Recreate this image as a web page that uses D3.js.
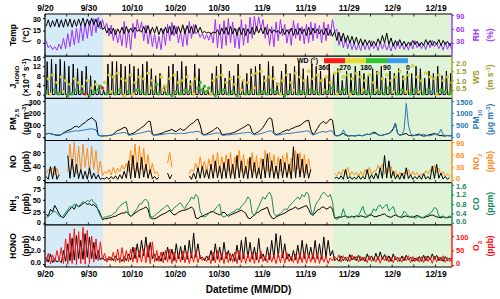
<!DOCTYPE html>
<html>
<head>
<meta charset="utf-8">
<script src="https://cdn.jsdelivr.net/npm/d3@7"></script>
<style>
body{margin:0;background:#fff;}
svg{font-family:"Liberation Sans",Arial,sans-serif;font-weight:bold;}
</style>
</head>
<body>
<div id="chart"></div>
<script>
// data: two readings a day (06:00, 18:00) from 9/20
var temp = [20,28,19,27,20,29,19,28,19,29,20,29,19,28,20,29,21,30,20,29,21,30,22,29,
  19,26,16,19,12,18,11,18,10,17,12,19,11,20,12,18,13,19,14,16,
  13,20,12,21,11,19,12,20,10,18,11,19,12,20,10,21,11,20,12,22,
  11,21,12,20,11,22,13,19,12,14,12,13,11,13,12,16,10,18,11,19,
  10,20,11,18,9,19,10,18,9,17,11,19,10,20,12,18,11,19,10,17,
  12,16,13,15,11,17,10,16,11,18,9,17,10,18,11,17,9,19,10,18,
  12,17,11,16,10,18,9,16,8,14,3,13,2,12,1,9,0,8,-1,7,
  -2,5,-3,4,-2,3,-4,2,-3,5,-1,9,0,12,-2,6,-4,3,-3,4,
  -3,2,-4,1,-3,3,-2,2,-4,1,-3,4,-2,3,-3,2,-2,4,-3,3,-2,2,-3,1];
var rh = [35,20,25,16,22,15,28,17,40,18,50,22,58,26,62,30,68,35,72,40,78,45,82,52,
  85,60,80,62,72,45,68,35,60,30,52,24,76,20,60,16,72,40,80,55,
  75,35,68,28,58,22,50,18,45,16,60,25,70,35,74,45,65,30,55,22,
  62,25,76,40,70,50,55,42,50,38,48,36,52,30,80,20,70,18,78,25,
  82,30,75,20,60,18,80,25,70,30,85,40,87,55,86,60,80,40,70,25,
  65,22,75,35,80,45,70,30,60,25,78,40,72,35,65,28,70,30,75,35,
  72,40,68,30,75,35,70,45,80,55,60,25,45,20,40,18,35,16,30,15,
  28,14,32,16,30,15,35,18,28,14,33,17,30,15,26,13,30,16,34,18,
  30,16,28,15,32,17,35,20,30,18,28,16,33,20,36,22,30,18,28,15,32,17,30,16];
// daily noon peak of J_HONO (zero at night)
var jPeak = [14,15,13,15,14,12,13,11,10,12,8,6,
  4,2,13,14,14,13,12,13,12,11,
  13,14,11,8,9,4,12,13,10,14,
  12,6,13,11,3,2,9,12,13,7,
  10,8,13,6,9,11,12,13,8,14,
  12,5,10,13,9,12,14,11,8,13,
  12,10,7,13,9,11,6,10,9,12,
  10,9,8,11,10,12,7,10,9,11,
  8,10,9,12,11,7,10,9,12,8,10,9];
var ws = [.4,1.1,.3,1.3,.5,.9,.3,1.2,.4,1.0,.2,.8,.3,1.1,.5,.9,.4,.7,.3,1.0,.2,.6,.4,.8,
  .5,.7,.6,.9,.3,1.3,.4,1.2,.3,1.4,.5,1.1,.2,1.0,.4,1.3,.3,.9,.5,1.2,
  .4,1.1,.3,1.4,.6,1.0,.4,.8,.3,1.2,.5,.7,.3,1.1,.2,1.3,.4,.9,.3,1.0,
  .5,1.2,.4,.8,.3,1.1,.6,.9,.5,.7,.4,.6,.3,1.0,.2,1.2,.4,1.3,.5,.9,
  .3,1.1,.4,.8,.2,1.2,.5,1.0,.3,.9,.4,1.3,.6,1.4,.3,1.5,.4,1.0,.3,1.2,
  .5,1.1,.4,.8,.3,1.0,.2,1.3,.4,.9,.5,1.4,.3,1.2,.4,1.0,.3,1.5,.5,1.1,
  .4,1.3,.3,1.0,.5,1.2,.4,.9,.6,1.4,.3,1.5,.4,1.2,.5,1.3,.3,1.1,.4,1.4,
  .3,1.2,.5,1.0,.4,1.3,.3,.9,.5,1.4,.4,1.1,.3,1.3,.6,1.0,.4,1.2,.3,1.5,
  .5,1.1,.4,1.3,.3,1.8,.5,1.2,.4,1.0,.3,1.4,.5,1.2,.4,1.1,.3,1.3,.5,1.0,.4,1.2,.3,.9];
var wd = [150,230,200,240,130,220,160,250,210,230,140,200,170,260,120,210,150,240,300,230,160,220,140,200,
  130,170,310,220,150,240,200,230,160,250,140,210,180,220,150,260,210,230,120,240,
  150,220,140,250,200,230,160,170,130,240,210,200,150,230,170,260,140,220,160,210,
  120,240,150,230,200,220,130,170,160,150,140,130,210,240,150,250,170,220,140,230,
  160,230,130,210,150,250,200,240,140,220,160,260,210,230,150,240,130,220,170,250,
  140,230,160,210,200,220,150,250,130,240,180,230,160,260,140,220,150,240,120,230,
  170,220,150,240,200,250,140,230,160,260,210,240,150,230,130,250,200,220,160,240,
  150,230,210,250,140,220,160,240,200,260,150,230,170,250,140,220,210,240,150,230,
  160,250,200,230,150,240,140,220,210,260,160,230,150,250,40,220,200,240,150,230,170,250,140,220];
var pm25 = [25,30,28,22,18,15,14,20,35,45,55,60,70,85,90,80,95,110,120,140,150,160,145,130,
  15,10,8,10,10,12,15,25,40,55,60,70,80,75,20,25,30,40,55,65,
  80,90,110,130,130,25,15,20,25,30,35,45,50,55,65,50,45,60,70,55,
  60,80,95,110,120,140,150,100,25,20,25,35,45,55,70,80,60,20,20,25,
  25,30,35,40,50,60,70,80,90,105,95,40,25,35,45,60,80,110,140,160,
  150,40,20,25,30,45,50,60,55,70,75,85,90,95,110,125,135,140,60,20,
  40,70,100,120,130,110,130,150,140,20,10,12,25,30,15,8,10,12,8,10,
  15,12,10,18,25,20,30,40,35,20,12,15,20,25,30,45,70,115,30,15,
  20,25,30,15,12,10,15,20,25,12,8,10,15,20,25,30,20,15,12,10,8,12,10,8];
var pm10 = [120,150,140,120,100,90,90,110,150,180,200,210,230,250,260,250,270,290,300,320,330,340,320,300,
  80,60,50,60,60,70,80,100,120,150,160,180,190,170,70,80,100,120,140,160,
  180,200,220,250,250,90,70,80,90,100,110,130,140,150,160,140,130,150,160,150,
  150,170,190,200,210,230,240,200,90,80,90,110,120,140,160,170,150,80,70,90,
  90,100,110,120,130,150,160,170,180,200,190,120,90,110,120,140,170,200,230,260,
  250,120,80,90,100,120,130,150,140,160,170,190,200,210,220,240,250,260,150,80,
  120,160,190,220,230,200,240,260,250,60,50,60,90,300,120,70,50,60,70,60,
  80,70,60,90,110,100,130,150,140,90,60,80,100,120,150,200,300,580,150,90,
  90,300,1400,500,150,80,60,70,80,100,120,80,50,60,80,100,120,150,320,100,70,60,50,60];
var no = [10,2,38,3,40,2,15,null,null,null,70,5,60,8,45,4,30,3,25,2,35,4,20,3,
  15,2,5,3,8,2,10,3,12,2,15,4,25,5,55,4,70,6,50,5,
  65,8,45,5,30,3,10,2,8,null,null,null,20,3,15,null,null,null,null,null,
  null,null,12,2,20,3,35,5,40,6,30,4,45,5,55,6,40,4,50,5,
  60,5,45,4,70,6,55,5,40,4,65,6,50,5,35,3,60,6,75,7,
  55,5,40,4,60,6,50,7,45,4,95,6,75,8,60,6,45,5,30,null,
  null,null,null,null,null,null,null,null,null,5,8,3,12,2,30,3,10,2,8,3,
  12,2,10,3,30,2,15,3,20,4,35,5,70,6,55,5,25,3,15,2,
  20,3,35,4,15,2,10,3,12,2,18,3,10,2,40,4,45,5,20,3,10,2,8,null];
var no2 = [15,25,20,30,12,28,10,null,null,null,20,85,25,90,15,80,20,85,30,75,15,80,25,70,
  15,45,10,20,15,25,12,30,15,28,20,35,25,40,20,70,25,85,20,80,
  25,75,20,60,15,40,15,20,10,null,null,null,40,65,30,null,null,null,null,null,
  null,null,15,25,20,40,18,55,25,45,15,50,25,60,20,65,18,55,22,60,
  20,65,15,55,25,70,20,60,15,50,22,65,18,58,15,52,25,70,20,65,
  22,60,15,55,20,58,25,65,15,52,20,70,25,65,18,60,15,50,20,null,
  null,null,null,null,null,null,null,null,null,15,10,20,12,25,15,30,10,20,12,18,
  8,20,10,25,15,30,12,22,20,35,25,38,15,28,20,32,10,22,8,18,
  10,18,15,25,10,20,12,18,8,15,12,22,15,25,20,35,18,28,12,20,8,15,10,null];
var nh3 = [20,15,30,25,38,30,20,15,12,18,25,30,35,30,40,35,38,42,45,40,42,38,40,35,
  30,20,8,10,10,12,12,15,15,18,20,22,22,25,20,15,18,22,25,28,
  30,32,35,30,12,10,10,12,15,18,20,22,25,28,22,18,20,24,26,28,
  28,30,32,35,30,12,10,14,15,18,20,22,24,26,22,20,18,22,24,20,
  15,18,20,22,24,26,28,25,22,12,10,14,18,22,24,28,30,32,34,20,
  12,10,14,16,18,20,22,25,28,30,32,35,30,32,34,36,38,30,20,18,
  22,28,30,34,35,30,32,36,30,12,12,14,13,15,16,14,13,15,14,16,
  14,16,15,13,14,17,18,15,14,16,17,19,20,16,14,13,16,18,15,14,
  13,15,16,14,14,13,15,17,14,13,12,14,15,17,18,16,14,13,12,14,13,12,14,13];
var co = [0.2,0.3,0.35,0.45,0.5,0.4,0.3,0.25,0.3,0.45,0.55,0.7,0.65,0.8,0.75,0.7,0.8,0.9,0.85,0.95,0.9,1.0,0.85,0.8,
  0.5,0.3,0.2,0.25,0.25,0.3,0.3,0.4,0.45,0.6,0.7,0.8,0.85,0.9,0.4,0.3,0.35,0.5,0.6,0.8,
  0.8,0.95,1.0,0.9,0.3,0.25,0.3,0.4,0.45,0.55,0.6,0.7,0.75,0.6,0.5,0.65,0.7,0.8,0.85,0.7,
  0.6,0.8,0.9,1.1,1.0,1.2,1.1,0.5,0.3,0.25,0.3,0.4,0.5,0.45,0.6,0.7,0.8,0.3,0.25,0.3,
  0.35,0.4,0.45,0.5,0.6,0.55,0.7,0.8,0.9,1.1,1.0,0.4,0.3,0.5,0.7,0.9,1.1,1.0,1.2,1.3,
  1.1,0.4,0.3,0.35,0.4,0.5,0.6,0.55,0.7,0.8,0.9,1.0,1.1,1.0,1.2,1.1,1.3,1.2,0.6,0.3,
  0.7,0.9,1.0,1.2,1.3,1.2,1.1,1.2,0.9,0.2,0.15,0.2,0.3,0.6,0.3,0.2,0.25,0.3,0.2,0.3,
  0.3,0.5,0.7,0.4,0.3,0.35,0.4,0.6,0.5,0.7,0.75,0.6,0.7,0.8,0.5,0.6,0.7,0.4,0.3,0.25,
  0.3,0.5,0.4,0.3,0.25,0.3,0.2,0.25,0.3,0.2,0.25,0.3,0.35,0.4,0.5,0.65,0.6,0.3,0.25,0.3,0.2,0.25,0.3,0.2];
var hono = [1.0,0.3,1.5,0.2,0.8,0.3,0.5,0.2,2.0,0.4,3.0,0.5,3.8,0.6,4.2,0.8,3.5,0.7,4.5,1.0,4.0,0.8,3.2,0.7,
  2.0,0.6,1.0,0.5,0.8,0.6,1.0,0.5,1.2,0.6,0.9,0.4,1.1,0.5,1.5,0.6,2.5,0.8,3.0,1.0,
  3.5,1.2,4.0,1.0,3.2,0.8,1.5,0.5,1.2,0.4,1.8,0.6,2.5,0.7,2.2,0.5,3.0,0.8,2.6,0.6,
  2.8,0.7,3.5,0.9,4.6,1.0,3.0,0.8,1.0,0.5,1.2,0.6,2.0,0.5,3.0,0.7,2.5,0.6,3.2,0.8,
  2.0,0.5,1.5,0.4,2.8,0.6,3.5,0.8,4.0,0.9,3.2,0.7,2.5,0.6,3.8,0.8,1.5,0.5,2.5,0.6,
  3.5,0.8,4.5,1.0,4.2,0.9,3.0,0.7,1.5,0.5,2.0,0.6,2.8,0.7,3.5,0.8,3.0,0.9,2.5,0.7,
  3.5,0.8,3.0,0.7,4.0,1.0,3.5,1.2,2.0,0.5,0.8,0.4,1.2,0.5,1.0,0.4,1.4,0.6,1.1,0.5,
  1.3,0.5,1.0,0.4,1.5,0.6,1.2,0.5,1.6,0.6,1.8,0.7,1.4,0.5,1.2,0.4,1.5,0.6,1.0,0.4,
  1.2,0.5,1.3,0.6,1.0,0.4,0.9,0.5,1.1,0.4,1.3,0.5,1.2,0.6,1.5,0.7,1.3,0.5,1.0,0.4,1.1,0.5,0.9,0.4];
var o3 = [10,40,5,35,10,50,15,60,5,90,3,110,5,125,2,115,5,130,3,120,5,100,10,90,
  15,80,20,40,10,30,15,45,10,55,8,60,10,50,12,55,10,60,8,50,
  10,55,8,70,5,80,10,50,12,45,8,50,10,55,5,45,8,40,10,48,
  8,45,5,40,10,50,8,35,15,25,12,30,5,45,8,50,10,40,5,45,
  8,40,10,45,5,50,8,42,6,38,10,45,5,40,8,48,12,30,8,40,
  10,35,5,40,8,45,6,42,12,30,8,38,5,40,8,45,6,35,10,42,
  8,40,5,35,10,30,5,25,15,30,20,35,10,32,15,28,12,35,18,30,
  10,30,15,28,8,32,12,25,10,30,6,28,15,32,10,27,8,30,12,25,
  10,28,15,32,8,30,12,26,10,29,8,31,12,27,6,30,10,28,14,32,9,26,12,28];

// shaded periods and wind direction classes
var periodStarts = [new Date(2019, 8, 20), new Date(2019, 9, 3, 9), new Date(2019, 10, 25, 9)];
var periodColors = ["#d5ebf8", "#fbefd9", "#dff4d6"];
var wdBreaks = [360, 270, 180, 90, 0];
var wdColors = ["#ff1a1a", "#e6dc32", "#2ec82e", "#3b9cf0"];

//frame
var width = 500, height = 299;
var left = 45, right = 452, top0 = 14, bottom0 = 267;
var panelH = (bottom0 - top0) / 6;
var startDate = new Date(2019, 8, 20), endDate = new Date(2019, 11, 22, 19);

var x = d3.scaleTime().domain([startDate, endDate]).range([left, right]);

function halfDaily(arr){
    return arr.map(function(v, k){
        return {t: d3.timeHour.offset(startDate, 6 + 12 * k), v: v};
    });
}

var panels = [
  {lData: temp, lDom: [-16, 35], lTicks: [0, 15, 30], lTitle: [[{t:"Temp"}], [{t:"(\u00B0C)"}]],
   rData: rh, rDom: [2, 92], rTicks: [30, 60, 90], rColor: "#9933ff", rTitle: [[{t:"RH"}], [{t:"(%)"}]], rFirst: true},
  {lDom: [-1.6, 16.3], lTicks: [0, 4, 8, 12, 16], lTitle: [[{t:"J"}, {t:"HONO", sub:1}], [{t:"(\u00D710"}, {t:"-4", sup:1}, {t:" s"}, {t:"-1", sup:1}, {t:")"}]],
   rDom: [0.05, 2.31], rTicks: [0.5, 1.0, 1.5, 2.0], rColor: "#9c9a22", rFmt: ".1f", rTitle: [[{t:"WS"}], [{t:"(m s"}, {t:"-1", sup:1}, {t:")"}]]},
  {lData: pm25, lDom: [-29, 322], lTicks: [0, 100, 200, 300], lTitle: [[{t:"PM"}, {t:"2.5", sub:1}], [{t:"(\u03BCg m"}, {t:"-3", sup:1}, {t:")"}]],
   rData: pm10, rDom: [-144, 1612], rTicks: [0, 500, 1000, 1500], rColor: "#2a78b8", rTitle: [[{t:"PM"}, {t:"10", sub:1}], [{t:"(\u03BCg m"}, {t:"-3", sup:1}, {t:")"}]]},
  {lData: no, lDom: [-7.6, 113], lTicks: [0, 40, 80], lTitle: [[{t:"NO"}], [{t:"(ppb)"}]],
   rData: no2, rDom: [-6.3, 93.5], rTicks: [0, 30, 60, 90], rColor: "#ff8c1a", rTitle: [[{t:"NO"}, {t:"2", sub:1}], [{t:"(ppb)"}]], rFirst: true},
  {lData: nh3, lDom: [-2.9, 86.2], lTicks: [0, 25, 50, 75], lTitle: [[{t:"NH"}, {t:"3", sub:1}], [{t:"(ppb)"}]],
   rData: co, rDom: [-0.08, 1.70], rTicks: [0, 0.4, 0.8, 1.2, 1.6], rColor: "#178a5c", rFmt: ".1f", rTitle: [[{t:"CO"}], [{t:"(ppm)"}]]},
  {lData: hono, lDom: [-0.44, 5.8], lTicks: [0, 2, 4], lTitle: [[{t:"HONO"}], [{t:"(ppb)"}]],
   rData: o3, rDom: [-6.8, 138.6], rTicks: [0, 50, 100], rColor: "#ff1010", rTitle: [[{t:"O"}, {t:"3", sub:1}], [{t:"(ppb)"}]]}
];

var svg = d3.select("#chart").append("svg")
    .attr("width", width)
    .attr("height", height);

svg.append("clipPath").attr("id", "plotclip")
  .append("rect")
    .attr("x", left).attr("y", top0)
    .attr("width", right - left).attr("height", bottom0 - top0);

//background shading
var periodData = periodStarts.map(function(s, i){
    return {start: s, end: i < periodStarts.length - 1 ? periodStarts[i + 1] : endDate, color: periodColors[i]};
});
svg.append("g").selectAll("rect")
    .data(periodData).enter().append("rect")
    .attr("x", function(d){ return x(d.start); })
    .attr("width", function(d){ return x(d.end) - x(d.start); })
    .attr("y", top0).attr("height", bottom0 - top0)
    .attr("fill", function(d){ return d.color; });

function addTitle(parent, tx, ty, parts, color){
    var t = parent.append("text")
        .attr("transform", "translate(" + tx + "," + ty + ") rotate(-90)")
        .attr("text-anchor", "middle")
        .attr("fill", color)
        .style("font-size", "8.5px");
    parts.forEach(function(p){
        var ts = t.append("tspan").text(p.t);
        if (p.sub) ts.attr("baseline-shift", "sub").style("font-size", "6px");
        if (p.sup) ts.attr("baseline-shift", "super").style("font-size", "6px");
    });
}

function drawLine(g, data, scale, color){
    var line = d3.line()
        .defined(function(d){ return d.v != null; })
        .x(function(d){ return x(d.t); })
        .y(function(d){ return scale(d.v); });
    g.append("path")
        .datum(halfDaily(data))
        .attr("fill", "none")
        .attr("stroke", color)
        .attr("stroke-width", 1)
        .attr("stroke-linejoin", "round")
        .attr("d", line);
}

// keep the end labels of stacked panels from touching
function nudgeEnds(axisG, ticks){
    var lo = d3.min(ticks), hi = d3.max(ticks);
    axisG.selectAll(".tick text").attr("dy", function(d){
        if (d == lo) return "0.1em";
        if (d == hi) return "0.45em";
        return "0.32em";
    });
}

var wdColor = d3.scaleThreshold().domain([90, 180, 270]).range(wdColors.slice().reverse());
var tickDays = d3.range(0, 94, 5).map(function(d){ return d3.timeDay.offset(startDate, d); });

panels.forEach(function(p, i){
    var y0 = top0 + i * panelH, y1 = y0 + panelH;
    var yL = d3.scaleLinear().domain(p.lDom).range([y1, y0]);
    var yR = d3.scaleLinear().domain(p.rDom).range([y1, y0]);
    var g = svg.append("g");
    var plot = g.append("g").attr("clip-path", "url(#plotclip)");

    if (i == 1){
        // J_HONO: zero at night, peak at noon
        var jPts = [];
        jPeak.forEach(function(v, d){
            var day = d3.timeDay.offset(startDate, d);
            jPts.push({t: d3.timeHour.offset(day, 7), v: 0});
            jPts.push({t: d3.timeHour.offset(day, 12.5), v: v});
            jPts.push({t: d3.timeHour.offset(day, 18), v: 0});
        });
        plot.append("path").datum(jPts)
            .attr("fill", "none").attr("stroke", "#000").attr("stroke-width", 1)
            .attr("d", d3.line().x(function(d){ return x(d.t); }).y(function(d){ return yL(d.v); }));
        var wsPts = halfDaily(ws);
        plot.selectAll("circle").data(wsPts).enter().append("circle")
            .attr("cx", function(d){ return x(d.t); })
            .attr("cy", function(d){ return yR(d.v); })
            .attr("r", 1.5)
            .attr("fill", function(d, k){ return wdColor(wd[k]); })
            .attr("stroke", function(d, k){ return d3.color(wdColor(wd[k])).darker(0.8); })
            .attr("stroke-width", 0.4);
    } else if (p.rFirst){
        drawLine(plot, p.rData, yR, p.rColor);
        drawLine(plot, p.lData, yL, "#000");
    } else {
        drawLine(plot, p.lData, yL, "#000");
        drawLine(plot, p.rData, yR, p.rColor);
    }

    //axes
    var la = g.append("g").attr("transform", "translate(" + left + ",0)")
        .call(d3.axisLeft(yL).tickValues(p.lTicks).tickSize(2).tickPadding(2));
    la.select(".domain").remove();
    la.selectAll("text").style("font-size", "7.5px").attr("fill", "#000");
    nudgeEnds(la, p.lTicks);
    var ra = g.append("g").attr("transform", "translate(" + right + ",0)")
        .call(d3.axisRight(yR).tickValues(p.rTicks).tickSize(2).tickPadding(2)
            .tickFormat(d3.format(p.rFmt || "d")));
    ra.select(".domain").remove();
    ra.selectAll("line").attr("stroke", p.rColor);
    ra.selectAll("text").style("font-size", "7.5px").attr("fill", p.rColor);
    nudgeEnds(ra, p.rTicks);

    //inward date ticks
    g.append("g").selectAll("line").data(tickDays).enter().append("line")
        .attr("x1", function(d){ return x(d); }).attr("x2", function(d){ return x(d); })
        .attr("y1", y1).attr("y2", y1 - 2.5)
        .attr("stroke", "#000").attr("stroke-width", 0.8);

    //frame
    g.append("line").attr("x1", left).attr("x2", right).attr("y1", y1).attr("y2", y1)
        .attr("stroke", "#000").attr("stroke-width", 1.2);
    g.append("line").attr("x1", left).attr("x2", left).attr("y1", y0).attr("y2", y1)
        .attr("stroke", "#000").attr("stroke-width", 1.2);
    g.append("line").attr("x1", right).attr("x2", right).attr("y1", y0).attr("y2", y1)
        .attr("stroke", p.rColor).attr("stroke-width", 1.4);

    var ym = (y0 + y1) / 2;
    addTitle(g, 16, ym, p.lTitle[0], "#000");
    addTitle(g, 29, ym, p.lTitle[1], "#000");
    addTitle(g, 479, ym, p.rTitle[0], p.rColor);
    addTitle(g, 493, ym, p.rTitle[1], p.rColor);
});

//top border
svg.append("line").attr("x1", left).attr("x2", right).attr("y1", top0).attr("y2", top0)
    .attr("stroke", "#000").attr("stroke-width", 1.2);
svg.append("g").selectAll("line").data(tickDays).enter().append("line")
    .attr("x1", function(d){ return x(d); }).attr("x2", function(d){ return x(d); })
    .attr("y1", top0).attr("y2", top0 + 2.5)
    .attr("stroke", "#000").attr("stroke-width", 0.8);

//date labels top and bottom
var labelDays = d3.range(0, 91, 10).map(function(d){ return d3.timeDay.offset(startDate, d); });
var fmt = d3.timeFormat("%-m/%-d");
var topAx = svg.append("g").attr("transform", "translate(0," + top0 + ")")
    .call(d3.axisTop(x).tickValues(labelDays).tickFormat(fmt).tickSize(0).tickPadding(3));
topAx.select(".domain").remove();
topAx.selectAll("text").style("font-size", "8.5px").attr("fill", "#000");
var botAx = svg.append("g").attr("transform", "translate(0," + bottom0 + ")")
    .call(d3.axisBottom(x).tickValues(labelDays).tickFormat(fmt).tickSize(0).tickPadding(4));
botAx.select(".domain").remove();
botAx.selectAll("text").style("font-size", "8.5px").attr("fill", "#000");

svg.append("text")
    .attr("x", (left + right) / 2).attr("y", 293)
    .attr("text-anchor", "middle")
    .style("font-size", "10px")
    .text("Datetime (MM/DD)");

//wind direction colour bar
var cb = d3.scaleLinear().domain([360, 0]).range([324, 408]);
var cbY = top0 + panelH + 2;
var legend = svg.append("g");
legend.selectAll("rect").data(wdColors).enter().append("rect")
    .attr("x", function(d, k){ return cb(wdBreaks[k]); })
    .attr("width", function(d, k){ return cb(wdBreaks[k + 1]) - cb(wdBreaks[k]); })
    .attr("y", cbY).attr("height", 5)
    .attr("fill", function(d){ return d; });
legend.selectAll("text.cbl").data(wdBreaks).enter().append("text")
    .attr("class", "cbl")
    .attr("x", function(d){ return cb(d); })
    .attr("y", cbY + 12)
    .attr("text-anchor", "middle")
    .style("font-size", "7px")
    .text(function(d){ return d; });
legend.append("text")
    .attr("x", 318).attr("y", cbY + 5)
    .attr("text-anchor", "end")
    .style("font-size", "7px")
    .text("WD (\u00B0)");
</script>
</body>
</html>
